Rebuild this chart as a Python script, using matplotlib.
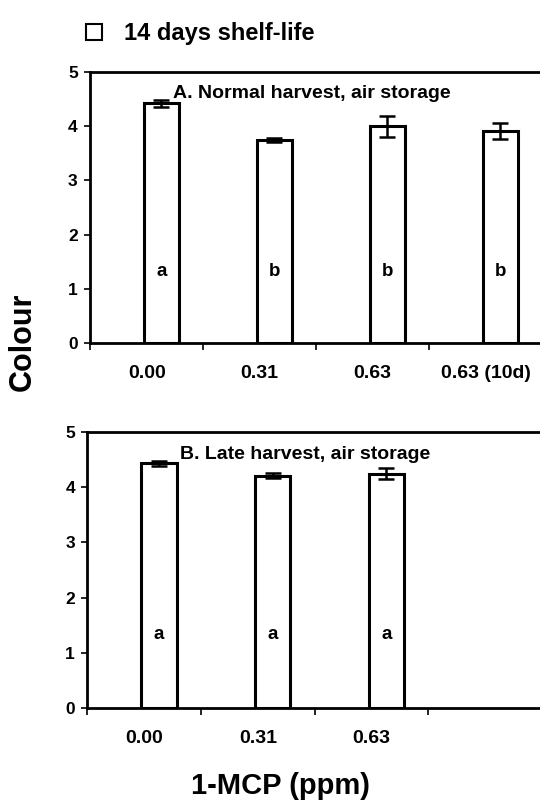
import numpy as np
import matplotlib
matplotlib.use('Agg')
import matplotlib.pyplot as plt
import matplotlib.lines as mlines

plt.rcParams['font.family'] = ['Liberation Sans', 'DejaVu Sans']
plt.rcParams['font.weight'] = 'bold'

# panel A: normal harvest
cats_a = ['0.00', '0.31', '0.63', '0.63 (10d)']
colour_a = [4.42, 3.75, 4.00, 3.91]
err_a = [0.06, 0.04, 0.19, 0.15]
letters_a = ['a', 'b', 'b', 'b']

# panel B: late harvest
cats_b = ['0.00', '0.31', '0.63', '']
colour_b = [4.43, 4.21, 4.24]
err_b = [0.05, 0.05, 0.10]
letters_b = ['a', 'a', 'a']

legend_label = '14 days shelf-life'
title_a = 'A. Normal harvest, air storage'
title_b = 'B. Late harvest, air storage'

fig = plt.figure(figsize=(5.4, 8), dpi=100)

ax_a = fig.add_axes([0.167, 0.571, 0.837, 0.339])
ax_b = fig.add_axes([0.162, 0.115, 0.842, 0.345])

offset = 0.13
width = 0.31


def draw_panel(ax, values, errs, letters, cats, title, title_x):
    x = np.arange(len(values)) + offset
    ax.bar(x, values, width=width, facecolor='white', edgecolor='black', linewidth=2.2, zorder=2)
    ax.errorbar(x, values, yerr=errs, fmt='none', ecolor='black', elinewidth=1.8,
                capsize=6, capthick=1.8, zorder=3)
    for xi, lt in zip(x, letters):
        ax.text(xi, 1.33, lt, ha='center', va='center', fontsize=13.5, fontweight='bold')
    ax.text(title_x, 4.6, title, ha='left', va='center', fontsize=14, fontweight='bold')

    ax.set_xlim(-0.5, 3.5)
    ax.set_ylim(0, 5)
    ax.set_yticks(range(0, 6))
    ax.set_xticks(np.arange(-0.5, 3.6, 1.0))
    ax.set_xticklabels([])
    ax.set_xticks(np.arange(4), minor=True)
    ax.set_xticklabels(cats, minor=True)
    ax.tick_params(axis='x', which='minor', length=0, pad=16, labelsize=14)
    ax.tick_params(axis='x', which='major', length=5, width=1.2, direction='out')
    ax.tick_params(axis='y', length=4, width=1.2, direction='out', labelsize=12.5, pad=5)
    for lbl in ax.get_xticklabels(minor=True) + ax.get_yticklabels():
        lbl.set_fontweight('bold')
    ax.spines['right'].set_visible(False)
    for s in ['left', 'bottom', 'top']:
        ax.spines[s].set_linewidth(2)


draw_panel(ax_a, colour_a, err_a, letters_a, cats_a, title_a, 0.235)
draw_panel(ax_b, colour_b, err_b, letters_b, cats_b, title_b, 0.31)

fig.text(0.043, 0.5725, 'Colour', rotation=90, ha='center', va='center',
         fontsize=22, fontweight='bold')
fig.text(0.52, 0.018, '1-MCP (ppm)', ha='center', va='center',
         fontsize=21, fontweight='bold')

# legend at the top
handle = mlines.Line2D([], [], marker='s', linestyle='none', markersize=11,
                       markerfacecolor='white', markeredgecolor='black', markeredgewidth=1.5)
fig.legend([handle], [legend_label], loc='center left', bbox_to_anchor=(0.118, 0.958),
           frameon=False, prop={'size': 17, 'weight': 'bold'}, handletextpad=0.85,
           handlelength=0.8)

fig.savefig('out.png', dpi=100)
